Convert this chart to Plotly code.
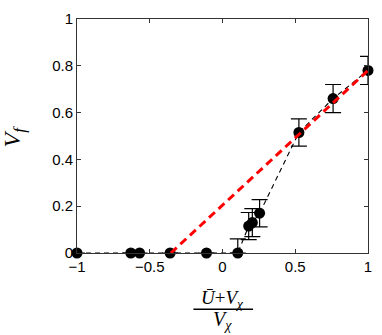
import plotly.graph_objects as go

# measured points (x = (U+Vchi)/Vchi, y = Vf)
x_vals = [-1.0, -0.63, -0.57, -0.36, -0.11, 0.105, 0.18, 0.205, 0.255, 0.525, 0.76, 1.0]
vf_vals = [0, 0, 0, 0, 0, 0, 0.115, 0.13, 0.17, 0.515, 0.66, 0.78]
err_plus = [0, 0, 0, 0, 0, 0.06, 0.058, 0.06, 0.058, 0.058, 0.06, 0.06]
err_minus = [0, 0, 0, 0, 0, 0, 0.058, 0.06, 0.058, 0.058, 0.06, 0.06]

# linear fit (red dashed)
fit_x = [-0.355, 1.0]
fit_y = [0, 0.78]

x_ticks = [-1, -0.5, 0, 0.5, 1]
x_ticklabels = ['\u22121', '\u22120.5', '0', '0.5', '1']
y_ticks = [0, 0.2, 0.4, 0.6, 0.8, 1]
y_ticklabels = ['0', '0.2', '0.4', '0.6', '0.8', '1']

fig = go.Figure()

# black dashed connecting line
fig.add_trace(go.Scatter(x=x_vals, y=vf_vals, mode='lines',
                         line=dict(color='black', width=1.1, dash='5px,4px'),
                         cliponaxis=False, showlegend=False))

# points with error bars
fig.add_trace(go.Scatter(x=x_vals, y=vf_vals, mode='markers',
                         marker=dict(color='black', size=11),
                         error_y=dict(type='data', symmetric=False, array=err_plus,
                                      arrayminus=err_minus, color='black',
                                      thickness=1.2, width=8),
                         cliponaxis=False, showlegend=False))

# red fit line
fig.add_trace(go.Scatter(x=fit_x, y=fit_y, mode='lines',
                         line=dict(color='#ff0000', width=3, dash='8px,5px'),
                         cliponaxis=False, showlegend=False))

axis_common = dict(showgrid=False, zeroline=False, showline=True, linecolor='#333',
                   linewidth=1, mirror='ticks', ticks='inside', ticklen=4,
                   tickcolor='#333', tickfont=dict(family='Liberation Sans', size=15, color='black'))

fig.update_xaxes(range=[-1, 1], tickvals=x_ticks, ticktext=x_ticklabels, **axis_common)
fig.update_yaxes(range=[0, 1], tickvals=y_ticks, ticktext=y_ticklabels, **axis_common)

# axis labels
fig.add_annotation(text='<i>V<sub>f</sub></i>', x=-0.215, y=0.5, xref='paper', yref='paper',
                   showarrow=False, textangle=-90, xanchor='center', yanchor='middle',
                   font=dict(family='Liberation Serif', size=24, color='black'))
fig.add_annotation(text='<i>\u016a</i>+<i>V<sub>\u03c7</sub></i>', x=0.5, y=-0.195,
                   xref='paper', yref='paper', showarrow=False, yanchor='middle',
                   font=dict(family='Liberation Serif', size=19, color='black'))
fig.add_annotation(text='<i>V<sub>\u03c7</sub></i>', x=0.5, y=-0.29,
                   xref='paper', yref='paper', showarrow=False, yanchor='middle',
                   font=dict(family='Liberation Serif', size=20, color='black'))
fig.add_shape(type='line', xref='paper', yref='paper', x0=0.4, x1=0.605, y0=-0.24, y1=-0.24,
              line=dict(color='black', width=1.5))

fig.update_layout(width=382, height=335, plot_bgcolor='white', paper_bgcolor='white',
                  margin=dict(l=77, r=10, t=10, b=82), showlegend=False)

fig.write_html("out.html", config=dict(displayModeBar=False),
               post_script="document.body.style.margin='0';")
